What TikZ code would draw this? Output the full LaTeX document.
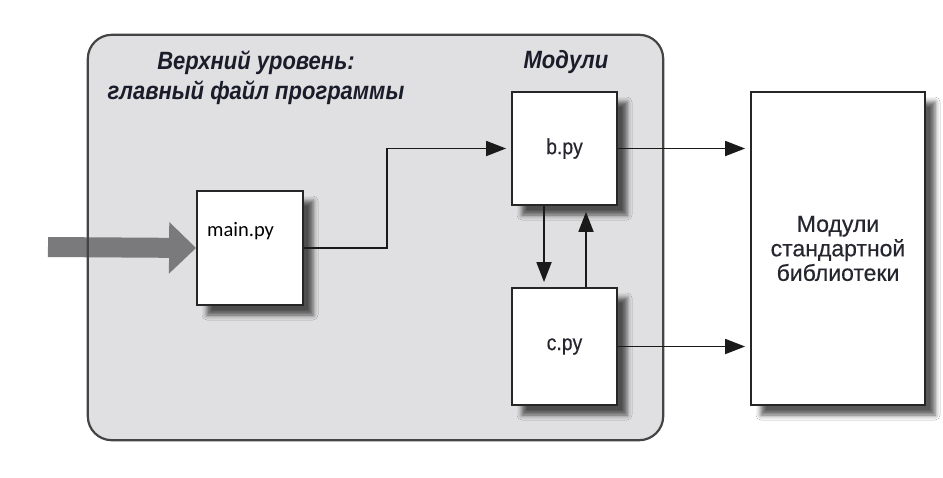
\documentclass[tikz,border=0pt]{standalone}
\usepackage{fontspec}
\usetikzlibrary{arrows.meta,shadows.blur,calc}
\newfontfamily\titlefont[FakeStretch=0.88]{Liberation Sans}
\newfontfamily\labfont[FakeStretch=0.88,FakeBold=0.4]{Liberation Sans}
\newfontfamily\libfont[FakeBold=0.4]{Liberation Sans}
\newfontfamily\calfont{Carlito}
\definecolor{panelfill}{HTML}{E0E0E2}
\definecolor{panelline}{HTML}{444444}
\definecolor{boxline}{HTML}{262626}
\definecolor{titlecol}{HTML}{1A1C2A}
\definecolor{textcol}{HTML}{262630}
\definecolor{bigarrow}{HTML}{7A7A7C}
\definecolor{conn}{HTML}{1A1A1A}
\tikzset{
  modbox/.style={draw=boxline, line width=1.8pt, fill=white, inner sep=0pt,
    blur shadow={shadow xshift=10pt, shadow yshift=-10pt, shadow blur radius=5pt, shadow opacity=65}},
  titletext/.style={font=\titlefont\bfseries\itshape\fontsize{25}{30}\selectfont, text=titlecol, anchor=base, inner sep=0pt},
  conline/.style={draw=conn, line width=1.8pt, -{Triangle[length=20pt,width=15pt]}},
}
\begin{document}
\begin{tikzpicture}[x=1pt,y=-1pt]
\useasboundingbox[fill=white] (0,0) rectangle (943,477);
% panel
\node[fill=panelfill, rounded corners=24pt, minimum width=575pt, minimum height=405pt, inner sep=0pt] (panel) at (375.5,237.5) {};
% big input arrow
\coordinate (in) at (48,247);
\node[modbox, minimum width=106pt, minimum height=114pt] (main) at (250,248) {};
\draw[bigarrow, line width=20pt, -{Triangle[length=27pt,width=50pt]}] (in) -- (main.west);
\draw[panelline, line width=2.2pt, rounded corners=24pt] (panel.north west) rectangle (panel.south east);
% boxes
\node[modbox, minimum width=105pt, minimum height=113pt, text=textcol, font=\labfont\fontsize{22}{26}\selectfont] (b) at (564.5,148.5) {b.py};
\node[modbox, minimum width=105pt, minimum height=117pt, text=textcol, font=\labfont\fontsize{22}{26}\selectfont] (c) at (564.5,346.5) {c.py};
\node[modbox, minimum width=174pt, minimum height=313pt, text=textcol, align=center, font=\libfont\fontsize{23}{24.5}\selectfont] (lib) at (838,248.5) {Модули\\стандартной\\библиотеки};
\node[font=\calfont\fontsize{20.5}{24}\selectfont, anchor=base west, inner sep=0pt] (mainlbl) at (207,236) {main.py};
% titles
\node[titletext] (title1) at (256,69) {Верхний уровень:};
\node[titletext] (title2) at (256,99) {главный файл программы};
\node[titletext] (title3) at (566,68) {Модули};
% connectors
\draw[conline, shorten >=5pt] (main.east) -- ++(83,0) |- (b.west);
\draw[conline, shorten >=5pt] (b.east) -- (b.east -| lib.west);
\draw[conline, shorten >=5pt] (c.east) -- (c.east -| lib.west);
\draw[conline, shorten >=5pt] (b.south -| 544,0) -- (c.north -| 544,0);
\draw[conline, shorten >=6pt] (c.north -| 586,0) -- (b.south -| 586,0);
\end{tikzpicture}
\end{document}
